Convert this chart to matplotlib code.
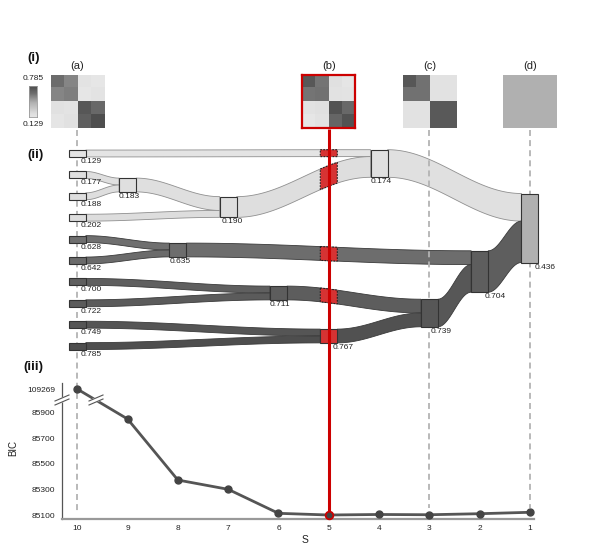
import numpy as np
import matplotlib
matplotlib.use('Agg')
import matplotlib.pyplot as plt
from matplotlib.patches import Rectangle
from matplotlib.colors import LinearSegmentedColormap

plt.rcParams['font.family'] = ['Liberation Sans', 'DejaVu Sans']

# ---- (i) matrices shown above the tree ----
heat_a = [[0.64, 0.56, 0.14, 0.11],
          [0.56, 0.58, 0.11, 0.13],
          [0.16, 0.13, 0.74, 0.66],
          [0.12, 0.16, 0.70, 0.785]]
heat_b = [[0.74, 0.61, 0.17, 0.12],
          [0.61, 0.62, 0.15, 0.14],
          [0.15, 0.17, 0.76, 0.66],
          [0.11, 0.15, 0.67, 0.76]]
heat_c = [[0.74, 0.62, 0.15, 0.15],
          [0.62, 0.62, 0.15, 0.15],
          [0.15, 0.15, 0.73, 0.73],
          [0.15, 0.15, 0.73, 0.73]]
heat_d = [[0.436] * 4] * 4
heat_S = [10, 5, 3, 1]
heat_tags = ['(a)', '(b)', '(c)', '(d)']
cbar_lo, cbar_hi = 0.129, 0.785

# ---- (ii) merge tree ----
leaf_values = [0.129, 0.177, 0.188, 0.202, 0.628, 0.642, 0.700, 0.722, 0.749, 0.785]
merge_S = [9, 8, 7, 6, 5, 4, 3, 2, 1]
merge_upper = [0.177, 0.628, 0.183, 0.700, 0.749, 0.129, 0.711, 0.635, 0.174]
merge_lower = [0.188, 0.642, 0.202, 0.722, 0.785, 0.190, 0.767, 0.739, 0.704]
merge_values = [0.183, 0.635, 0.190, 0.711, 0.767, 0.174, 0.739, 0.704, 0.436]

# ---- (iii) BIC ----
S_values = [10, 9, 8, 7, 6, 5, 4, 3, 2, 1]
bic_values = [109269, 85848, 85375, 85303, 85117, 85104, 85108, 85106, 85114, 85125]
chosen_S = 5
bic_ticks = [85100, 85300, 85500, 85700, 85900]

# layout of the tree (vertical rows, in pixels)
leaf_top, leaf_gap, unit = 153.5, 21.4, 6.9
merge_rows = [185, 250, 207, 293, 336, 163.5, 313, 271.5, 228]
label_dx = {0.183: -8.5, 0.635: -8.5, 0.190: -7, 0.711: -8.5, 0.767: 3.5,
            0.174: -8, 0.739: 1, 0.704: 5, 0.436: 5}
hw = 0.169  # half box width in S units

W, H = 598, 554
fig = plt.figure(figsize=(W / 100, H / 100), dpi=100)
cmap = LinearSegmentedColormap.from_list('grey_ramp', [
    (0.0, '#f4f4f4'), (0.129, '#e4e4e4'), (0.2, '#dddddd'), (0.436, '#b0b0b0'),
    (0.63, '#6e6e6e'), (0.785, '#4e4e4e'), (1.0, '#303030')])
red = '#cc0000'

ov = fig.add_axes([0, 0, 1, 1])
ov.set_xlim(11.537, -0.352)
ov.set_ylim(H, 0)
ov.axis('off')


def fig_xy(S, y):
    return fig.transFigure.inverted().transform(ov.transData.transform((S, y)))


def fpx(x, y):
    return x / W, 1 - y / H


# nodes
nodes = {}
for i, v in enumerate(leaf_values):
    nodes[v] = dict(S=10, y=leaf_top + i * leaf_gap, n=1)
for S, a, b, v, y in zip(merge_S, merge_upper, merge_lower, merge_values, merge_rows):
    nodes[v] = dict(S=S, y=y, n=nodes[a]['n'] + nodes[b]['n'])


def band(c, p, slot_top, t):
    x0 = c['S'] - hw
    x1 = p['S'] + hw
    s = (1 - np.cos(np.pi * t)) / 2
    top0 = c['y'] - c['n'] * unit / 2
    top = top0 + (slot_top - top0) * s
    return x0 + (x1 - x0) * t, top, top + c['n'] * unit, x0, x1


# bands
for a, b, v in zip(merge_upper, merge_lower, merge_values):
    p = nodes[v]
    slot = p['y'] - p['n'] * unit / 2
    for child in (a, b):
        c = nodes[child]
        t = np.linspace(0, 1, 100)
        xs, top, bot, x0, x1 = band(c, p, slot, t)
        edge = '#8f8f8f' if child < 0.5 else '#3a3a3a'
        ov.fill(np.r_[xs, xs[::-1]], np.r_[top, bot[::-1]], fc=cmap(child),
                ec=edge, lw=0.6, zorder=1)
        if c['S'] > chosen_S > p['S']:
            ta = (chosen_S + hw - x0) / (x1 - x0)
            tb = (chosen_S - hw - x0) / (x1 - x0)
            tt = np.linspace(ta, tb, 20)
            xs2, top2, bot2, _, _ = band(c, p, slot, tt)
            ov.fill(np.r_[xs2, xs2[::-1]], np.r_[top2, bot2[::-1]], fc='#d63333',
                    ec='#222222', lw=0.8, ls=(0, (1.5, 1.2)), zorder=3)
        slot += c['n'] * unit

# guide lines
ov.vlines([10, 3, 1], [130, 130, 130], [514, 508, 508], colors='#b3b3b3', lw=1.3,
          linestyles=[(0, (3.3, 2.3))], zorder=1.5)
ov.vlines(chosen_S, 129, 513, colors=red, lw=2.2, zorder=4)

# node boxes and labels
for v, nd in nodes.items():
    h = nd['n'] * unit
    fc = '#d63333' if (nd['S'] == chosen_S and v in merge_values) else cmap(v)
    ov.add_patch(Rectangle((nd['S'] - hw, nd['y'] - h / 2), 2 * hw, h, fc=fc,
                           ec='#333333', lw=0.8, zorder=2))
    dx = label_dx.get(v, 3)
    ov.annotate('%.3f' % v, xy=(nd['S'], nd['y'] + h / 2), xytext=(dx * 0.72, -0.8),
                textcoords='offset points', ha='left', va='top', fontsize=6,
                color='#222222', zorder=5)

# (i) heatmaps
for S, mat, tag in zip(heat_S, [heat_a, heat_b, heat_c, heat_d], heat_tags):
    x0, y0 = fig_xy(S + 0.527, 128)
    x1, y1 = fig_xy(S - 0.527, 75)
    hax = fig.add_axes([x0, y0, x1 - x0, y1 - y0])
    hax.imshow(np.array(mat), cmap=cmap, vmin=0, vmax=1, aspect='auto',
               interpolation='nearest')
    hax.set_xticks([])
    hax.set_yticks([])
    for sp in hax.spines.values():
        if S == chosen_S:
            sp.set_color(red)
            sp.set_linewidth(1.6)
        else:
            sp.set_visible(False)
    ov.text(S, 66, tag, ha='center', va='center', fontsize=8, color='#222222')

cax = fig.add_axes([29 / W, 1 - 117 / H, 8 / W, 31 / H])
cax.imshow(np.linspace(cbar_hi, cbar_lo, 60)[:, None], cmap=cmap, vmin=0, vmax=1,
           aspect='auto')
cax.set_xticks([])
cax.set_yticks([])
for sp in cax.spines.values():
    sp.set_color('#999999')
    sp.set_linewidth(0.6)
fig.text(*fpx(33, 79), '%.3f' % cbar_hi, ha='center', va='center', fontsize=6, color='#222222')
fig.text(*fpx(33, 124), '%.3f' % cbar_lo, ha='center', va='center', fontsize=6, color='#222222')

for txt, x, y in [('(i)', 27, 58), ('(ii)', 27, 155), ('(iii)', 23, 367)]:
    fig.text(*fpx(x, y), txt, ha='left', va='center', fontsize=9.5,
             fontweight='bold', color='#111111')

# (iii) BIC with broken axis
top_pos = 86080
shift = bic_values[0] - top_pos
plot_vals = [b - shift if b > 100000 else b for b in bic_values]

ax = fig.add_axes([62 / W, (H - 519) / H, 472 / W, 136 / H])
ax.patch.set_alpha(0)
ax.plot(S_values, plot_vals, color='#555555', lw=2, marker='o', ms=5,
        mfc='#444444', mec='#444444', zorder=3, clip_on=False)
ci = S_values.index(chosen_S)
ax.plot(chosen_S, plot_vals[ci], 'o', ms=5.5, mfc='#444444', mec=red, mew=1.3,
        zorder=4, clip_on=False)
ax.set_xlim(10.304, 0.920)
ax.set_ylim(85073, 86127)
ax.set_xticks(S_values)
ax.set_yticks(bic_ticks + [top_pos])
ax.set_yticklabels([str(t) for t in bic_ticks] + [str(bic_values[0])])
ax.tick_params(length=0, labelsize=6, labelcolor='#222222')
ax.tick_params(axis='x', pad=4.5)
ax.tick_params(axis='y', pad=5)
for side in ['top', 'right']:
    ax.spines[side].set_visible(False)
ax.spines['left'].set_color('#555555')
ax.spines['left'].set_linewidth(0.9)
ax.spines['bottom'].set_color('#999999')
ax.spines['bottom'].set_linewidth(1.6)
ax.set_ylabel('BIC', fontsize=7, color='#222222')
ax.yaxis.set_label_coords((18 - 62) / 472, (519 - 448) / 136)
ax.set_xlabel('S', fontsize=7.5, color='#222222')
ax.xaxis.set_label_coords((305 - 62) / 472, -(535 - 519) / 136)

# break marks
for cx in (62, 96):
    poly = [fpx(cx - 7, 405), fpx(cx + 7, 399), fpx(cx + 7, 395), fpx(cx - 7, 401)]
    ax.fill([p[0] for p in poly], [p[1] for p in poly], color='white',
            transform=fig.transFigure, clip_on=False, zorder=6)
    for dy in (0, -4):
        p0 = fpx(cx - 7, 405 + dy)
        p1 = fpx(cx + 7, 399 + dy)
        ax.plot([p0[0], p1[0]], [p0[1], p1[1]], color='#555555', lw=0.8,
                transform=fig.transFigure, clip_on=False, zorder=7)

fig.savefig('out.png', dpi=100)
